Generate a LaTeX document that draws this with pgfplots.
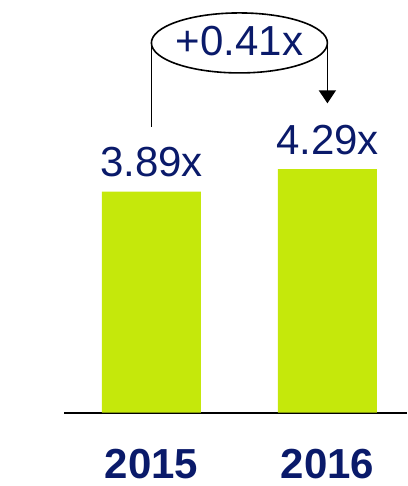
\documentclass[border=0pt]{standalone}
\usepackage{fontspec}
\setmainfont{Liberation Sans}
\usepackage{pgfplots}
\pgfplotsset{compat=1.18}
\usetikzlibrary{arrows.meta}
\definecolor{barlime}{HTML}{C5E80B}
\definecolor{navy}{HTML}{0A1A6A}
\newcommand{\bigfont}{\fontsize{42}{48}\selectfont}
\begin{document}
\begin{tikzpicture}
\begin{axis}[
  scale only axis, width=343pt, height=412.7pt,
  xmin=-0.4966, xmax=1.4523, ymin=0, ymax=7.266,
  axis y line=none, axis x line*=bottom,
  x axis line style={line width=1.8pt, -},
  xtick={0,1}, xticklabels={2015,2016}, major tick length=0pt,
  xticklabel style={font=\bigfont\bfseries, text=navy, anchor=base, yshift=-65.6pt},
  clip=false,
  /pgf/number format/assume math mode=true,
  nodes near coords={\pgfmathprintnumber[fixed,fixed zerofill,precision=2]{\pgfplotspointmeta}x},
  nodes near coords style={font=\bigfont, text=navy, anchor=base, yshift=15pt, inner sep=0pt},
]
\addplot[ybar, bar width=99pt, fill=barlime, draw=none] coordinates {(0,3.89) (1,4.29)};
\coordinate (bl) at (rel axis cs:0,0);
% change bracket
\draw[line width=1.8pt] (axis cs:0,5.035) -- (axis cs:0,6.51);
\draw[line width=1.8pt, -{Triangle[length=13pt,width=17pt]}] (axis cs:1,6.51) -- (axis cs:1,5.447);
\draw[line width=1.6pt, fill=white] (axis cs:0.5,6.51) ellipse [x radius=88pt, y radius=30pt];
\node[font=\bigfont, text=navy, yshift=2pt] at (axis cs:0.5,6.51) {+0.41x};
\end{axis}
\pgfresetboundingbox
\path[use as bounding box] ([shift={(-64pt,-73.3pt)}]bl) rectangle ([shift={(343pt,412.7pt)}]bl);
\end{tikzpicture}
\end{document}
